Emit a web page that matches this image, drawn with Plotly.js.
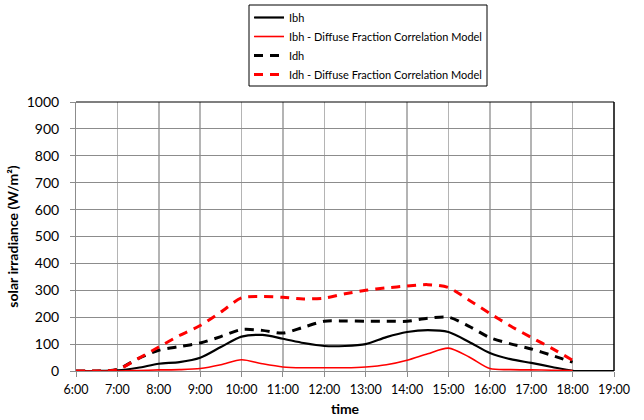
<!DOCTYPE html>
<html>
<head>
<meta charset="utf-8">
<script src="https://cdn.plot.ly/plotly-3.0.1.min.js"></script>
<style>html,body{margin:0;padding:0;background:#fff;}#chart{width:644px;height:420px;}</style>
</head>
<body>
<div id="chart"></div>
<script>
// time in hours (half-hourly)
const timeIbh = [6,6.5,7,7.5,8,8.5,9,9.5,10,10.5,11,11.5,12,12.5,13,13.5,14,14.5,15,15.5,16,16.5,17,17.5,18,18.5,19];
const Ibh = [0,0,2,12,27,33,49,89,128,134,120,104,93,93,100,126,145,152,145,108,67,44,30,15,1,0,0];
const time = [6,6.5,7,7.5,8,8.5,9,9.5,10,10.5,11,11.5,12,12.5,13,13.5,14,14.5,15,15.5,16,16.5,17,17.5,18];
const IbhDFC = [0,0,0,2,4,5,9,23,42,27,15,12,12,12,15,23,40,64,85,52,9,5,4,3,2];
const Idh = [0,0,6,46,77,91,104,128,154,151,141,163,185,186,185,185,185,196,200,166,124,101,82,58,33];
const IdhDFC = [0,0,5,46,89,132,169,219,272,277,274,268,271,287,300,309,316,321,310,263,214,167,125,84,40];
const tickVals = [6,7,8,9,10,11,12,13,14,15,16,17,18,19];
const tickText = ["6:00","7:00","8:00","9:00","10:00","11:00","12:00","13:00","14:00","15:00","16:00","17:00","18:00","19:00"];
const names = ["Ibh","Ibh - Diffuse Fraction Correlation Model","Idh","Idh - Diffuse Fraction Correlation Model"];

const FONT = "Lato, 'Liberation Sans', sans-serif";
const traces = [
  {x: timeIbh, y: Ibh, name: names[0], mode: 'lines', line: {color: '#000000', width: 2.2, shape: 'spline', smoothing: 0.8}},
  {x: time, y: IbhDFC, name: names[1], mode: 'lines', line: {color: '#ff0000', width: 1.6, shape: 'spline', smoothing: 0.8}},
  {x: time, y: Idh, name: names[2], mode: 'lines', line: {color: '#000000', width: 3, dash: '9px,7px', shape: 'spline', smoothing: 0.8}},
  {x: time, y: IdhDFC, name: names[3], mode: 'lines', line: {color: '#ff0000', width: 3, dash: '9px,7px', shape: 'spline', smoothing: 0.8}}
];

// plot area: x 76..614, y 102..371 (px); legend box 249..487, 5..86 (px)
const PL = 76, PW = 538, PT = 102, PH = 269;
const px2x = p => (p - PL) / PW;
const py2y = p => (PT + PH - p) / PH;

const layout = {
  width: 644, height: 420,
  margin: {l: 76, r: 30, t: 102, b: 49, autoexpand: false},
  paper_bgcolor: '#ffffff', plot_bgcolor: '#ffffff',
  font: {family: FONT, size: 13, color: '#000'},
  showlegend: true,
  legend: {
    x: px2x(249), y: py2y(3), xanchor: 'left', yanchor: 'top', xref: 'paper', yref: 'paper',
    bgcolor: 'rgba(0,0,0,0)', borderwidth: 0,
    font: {family: FONT, size: 11, color: '#000'},
    tracegroupgap: 0, itemwidth: 30
  },
  xaxis: {
    range: [6, 19], tickmode: 'array', tickvals: tickVals, ticktext: tickText,
    showgrid: true, gridcolor: '#b4b4b4', gridwidth: 1.5,
    showline: true, linecolor: '#8c8c8c', linewidth: 1,
    ticks: 'outside', ticklen: 5, tickcolor: '#8c8c8c', ticklabelstandoff: 2,
    zeroline: false, tickfont: {size: 12.5, family: FONT},
    title: {text: '<b>time</b>', font: {size: 14, family: FONT}, standoff: 8}
  },
  yaxis: {
    range: [0, 1000], dtick: 100,
    showgrid: true, gridcolor: '#8c8c8c', gridwidth: 1,
    showline: true, linecolor: '#8c8c8c', linewidth: 1,
    ticks: 'outside', ticklen: 5, tickcolor: '#8c8c8c', ticklabelstandoff: 8,
    zeroline: false, tickfont: {size: 14, family: FONT},
    title: {text: '<b>solar irradiance (W/m²)</b>', font: {size: 14, family: FONT}, standoff: 4}
  },
  shapes: [
    {type: 'rect', xref: 'paper', yref: 'paper', x0: px2x(249), x1: px2x(487), y0: py2y(86), y1: py2y(5), line: {color: '#000', width: 1}, fillcolor: '#ffffff', layer: 'below'},
    {type: 'line', xref: 'x domain', yref: 'y domain', x0: 0, x1: 1, y0: 1, y1: 1, line: {color: '#000', width: 1.2}},
    {type: 'line', xref: 'x domain', yref: 'y domain', x0: 1, x1: 1, y0: 0, y1: 1, line: {color: '#000', width: 1.5}}
  ]
};

Plotly.newPlot('chart', traces, layout, {displayModeBar: false, staticPlot: true});
</script>
</body>
</html>
